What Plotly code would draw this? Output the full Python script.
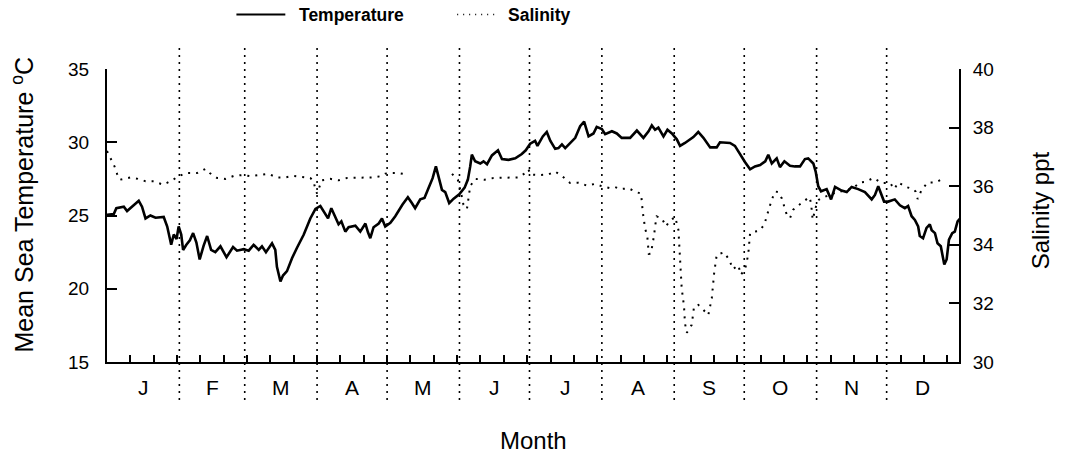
import plotly.graph_objects as go

# ---------------- data ----------------
temp_day = [0, 2.9, 4, 7.2, 8.6, 10.8, 13.6, 15, 16.5, 18.6, 20.8, 24.3, 25.8, 27.5, 28.6, 29.8, 30.7, 31.8,
            32.6, 34, 35.5, 36.9, 38.3, 39.7, 41.4, 42.9, 44.6, 46.4, 48.6, 51.2, 54, 55.7, 58.6, 60.7, 62.8,
            65, 66.4, 68.1, 70.7, 72.1, 72.8, 74.3, 75.4, 77.1, 79.3, 81.4, 84.3, 87.1, 89.3, 91.4, 92.8,
            94.7, 96.1, 97.8, 99.2, 100.4, 102.1, 103.5, 106.4, 108.5, 110.7, 111.8, 112.8, 114.2, 116.4,
            117.8, 119.2, 121.4, 123.5, 126.6, 128.9, 130.6, 132, 134.2, 136, 137.8, 139.5, 140.9, 142.3,
            143.5, 144.9, 146.6, 148.5, 150.9, 153.2, 154.6, 155.6, 156.3, 157.7, 159.9, 161.3, 162.8, 164.9,
            167.5, 169.2, 172, 174.9, 177.7, 179.4, 181.3, 183.4, 184.4, 186.7, 188.4, 189.9, 192, 193.4,
            194.9, 196.3, 198.4, 200.6, 202.7, 204.4, 206.3, 208.4, 209.8, 212, 213.4, 216.3, 218.4, 220.5,
            224.1, 227, 229.8, 232, 233.4, 234.8, 236.2, 238.4, 240.1, 242, 244.1, 245.5, 247.6, 251.2,
            253.3, 255.5, 258.4, 261.2, 262.6, 264.8, 266.9, 269, 271.2, 273.3, 275.5, 277.6, 279.8, 282,
            283.3, 284.8, 286.9, 288.3, 290.2, 292.6, 294.7, 296.9, 299, 300.4, 302.6, 303.6, 304.7, 305.9,
            308.3, 310.2, 311.9, 314.7, 316.9, 319, 321.8, 324.7, 327.6, 329, 330.4, 331.9, 332.9, 334.7,
            337.5, 339.7, 341.8, 343.2, 344.7, 346.1, 347.5, 348.2, 349.6, 351.1, 352.5, 353.3, 354.7,
            355.8, 357.2, 358.7, 359.7, 360.7, 362.1, 363.2, 364.4, 365.5]
temperature = [25.05, 25.1, 25.5, 25.6, 25.3, 25.6, 26.0, 25.6, 24.8, 25.0, 24.85, 24.9, 24.25, 23.0, 23.7,
               23.4, 24.25, 23.7, 22.65, 23.0, 23.3, 23.8, 23.15, 22.0, 22.95, 23.6, 22.65, 22.5, 22.9,
               22.15, 22.85, 22.6, 22.7, 22.6, 23.0, 22.65, 22.9, 22.5, 23.1, 22.65, 21.5, 20.5, 20.9, 21.2,
               22.1, 22.8, 23.7, 24.8, 25.45, 25.65, 25.3, 24.8, 25.5, 24.95, 24.4, 24.6, 23.9, 24.2, 24.3,
               23.9, 24.45, 23.85, 23.45, 24.2, 24.45, 24.8, 24.25, 24.5, 24.95, 25.75, 26.25, 25.85, 25.5,
               26.1, 26.2, 26.9, 27.55, 28.35, 27.45, 26.75, 26.6, 25.85, 26.15, 26.45, 26.9, 27.45, 28.35,
               29.15, 28.7, 28.55, 28.7, 28.5, 29.1, 29.45, 28.85, 28.8, 28.9, 29.2, 29.45, 29.9, 30.1,
               29.75, 30.4, 30.7, 30.1, 29.55, 29.6, 29.85, 29.6, 29.95, 30.3, 31.1, 31.4, 30.4, 30.6, 31.05,
               30.9, 30.55, 30.75, 30.6, 30.3, 30.3, 30.8, 30.3, 30.75, 31.15, 30.85, 31.0, 30.4, 30.85,
               30.6, 30.2, 29.75, 29.95, 30.35, 30.7, 30.3, 29.65, 29.65, 30.0, 30.0, 29.95, 29.75, 29.15,
               28.65, 28.15, 28.35, 28.45, 28.7, 29.15, 28.55, 28.9, 28.3, 28.7, 28.4, 28.35, 28.35, 28.85,
               28.9, 28.55, 28.0, 27.0, 26.65, 26.8, 26.1, 26.95, 26.7, 26.6, 26.95, 26.8, 26.6, 26.1, 26.4,
               27.0, 26.3, 25.95, 25.95, 26.1, 25.7, 25.5, 25.65, 24.95, 24.7, 24.25, 23.6, 23.45, 24.15,
               24.4, 24.0, 23.8, 23.1, 22.9, 21.65, 22.0, 23.35, 23.8, 23.9, 24.6, 24.8]

sal_day = [0, 1.5, 3.2, 4.4, 5.5, 7.2, 10, 13.2, 16.5, 20, 24, 27.2, 30.7, 34, 38.6, 42.2, 44, 47.2, 50.7,
           54.3, 57.9, 61.4, 65.4, 69.3, 72.6, 76.4, 79.7, 83.6, 87.1, 88.5, 89.3, 90, 90.8, 92, 95.7, 99.2,
           102.8, 106.4, 110.4, 113.8, 117.1, 119.2, 120.9, 124.9, 128.5, 138,
           147.8, 150.3, 152, 152.7, 154.2, 155.2, 155.6, 157.7, 161.7, 165.6, 169.2, 172.7, 176.3, 179.2,
           180.6, 181.3, 185.3, 189.1, 192, 195.3, 198.4, 202, 205.6, 209.1, 212, 215.2, 217.7, 219.8,
           223.4, 227, 228.8, 229.5, 230.5, 231.5, 232.1, 233, 233.8, 234.4, 234.8, 235.5, 237.7, 239.5,
           240.9, 243.4, 244.8, 245.2, 245.8, 246.2, 247.2, 247.6, 248.4, 250.5, 251.5, 253.3, 255.5,
           257.6, 259.1, 260.1, 261.2, 264.3, 266.6, 268.1, 270.5, 271.5, 273.3, 274.7, 275.5, 277.3,
           279.3, 281.6, 282.6, 283.6, 284.8, 286.2, 287.6, 289, 290.2, 291.2, 292.6, 294, 296.6, 299,
           300.9, 301.6, 301.9, 302.3, 303, 303.7, 305, 306.4, 309.7, 313, 316.9, 319.7, 322.6, 325,
           328.3, 331.9, 335.5, 337.3, 339, 342.5, 345.4, 346.4, 347.3, 349, 351.6, 355, 358.2]
salinity = [37.2, 36.97, 36.68, 36.4, 36.22, 36.25, 36.3, 36.25, 36.17, 36.17, 36.05, 36.17, 36.34, 36.45,
            36.45, 36.59, 36.45, 36.28, 36.25, 36.35, 36.38, 36.34, 36.38, 36.42, 36.3, 36.3, 36.35, 36.3,
            36.28, 36.17, 35.88, 35.75, 35.95, 36.2, 36.25, 36.2, 36.28, 36.28, 36.28, 36.3, 36.34, 36.43,
            36.45, 36.45, 36.4, None,
            36.42, 36.22, 35.65, 35.37, 35.22, 35.7, 36.0, 36.25, 36.22, 36.28, 36.28, 36.3, 36.3, 36.45,
            36.57, 36.4, 36.38, 36.4, 36.5, 36.32, 36.11, 36.12, 36.02, 36.08, 36.0, 35.94, 35.97, 35.9,
            35.93, 35.79, 35.75, 35.14, 34.57, 34.26, 33.69, 33.7, 34.0, 34.34, 34.63, 34.97, 34.9, 34.63,
            34.8, 34.95, 34.51, 33.94, 33.26, 32.52, 31.89, 31.32, 31.0, 31.27, 31.89, 31.95, 31.78, 31.6,
            32.18, 33.03, 33.66, 33.74, 33.49, 33.17, 33.3, 32.98, 33.15, 33.66, 34.4, 34.45, 34.47, 34.68,
            34.97, 35.26, 35.54, 35.82, 35.8, 35.6, 35.31, 35.03, 34.91, 35.2, 35.37, 35.52, 35.63, 35.43,
            35.14, 34.86, 35.08, 35.3, 35.54, 35.6, 35.71, 35.8, 35.86, 35.94, 36.13, 36.15, 36.28, 36.11,
            36.11, 35.9, 36.13, 35.97, 35.9, 35.82, 35.56, 35.88, 36.13, 36.13, 36.26]

month_labels = ["J", "F", "M", "A", "M", "J", "J", "A", "S", "O", "N", "D"]
month_lengths = [31, 28, 31, 30, 31, 30, 31, 31, 30, 31, 30, 31]
temp_ticks = [15, 20, 25, 30, 35]
sal_ticks = [30, 32, 34, 36, 38, 40]

# derived month boundaries / centres
bounds = [0]
for m in month_lengths:
    bounds.append(bounds[-1] + m)
month_mid = [(bounds[i] + bounds[i + 1]) / 2 for i in range(12)]
month_bounds = bounds[1:-1]

FONT = "Liberation Sans, Arial, sans-serif"

fig = go.Figure()
fig.add_trace(go.Scatter(x=temp_day, y=temperature, mode="lines", name="Temperature",
                         line=dict(color="black", width=2.6), yaxis="y", showlegend=False))
fig.add_trace(go.Scatter(x=sal_day, y=salinity, mode="lines", name="Salinity",
                         line=dict(color="black", width=2, dash="2px,6px"), yaxis="y2",
                         connectgaps=False, showlegend=False))

shapes = []
for b in month_bounds:
    shapes.append(dict(type="line", xref="x", yref="paper", x0=b, x1=b, y0=-0.13, y1=1.075,
                       line=dict(color="black", width=1.6, dash="2px,5px")))
# legend samples
shapes.append(dict(type="line", xref="paper", yref="paper", x0=0.1519, x1=0.2093, y0=1.186, y1=1.186,
                   line=dict(color="black", width=2.2)))
shapes.append(dict(type="line", xref="paper", yref="paper", x0=0.411, x1=0.458, y0=1.186, y1=1.186,
                   line=dict(color="black", width=1.5, dash="1px,5px")))

annotations = []
for lab, mid in zip(month_labels, month_mid):
    annotations.append(dict(x=mid, y=-0.088, xref="x", yref="paper", text=lab, showarrow=False,
                            font=dict(size=21, family=FONT, color="black"), xanchor="center", yanchor="middle"))
annotations += [
    dict(x=0.2234, y=1.186, xref="paper", yref="paper", text="<b>Temperature</b>", showarrow=False,
         xanchor="left", yanchor="middle", font=dict(size=17.5, family=FONT, color="black")),
    dict(x=0.4686, y=1.186, xref="paper", yref="paper", text="<b>Salinity</b>", showarrow=False,
         xanchor="left", yanchor="middle", font=dict(size=17.5, family=FONT, color="black")),
    dict(x=0.5, y=-0.268, xref="paper", yref="paper", text="Month", showarrow=False,
         xanchor="center", yanchor="middle", font=dict(size=24, family=FONT, color="black")),
    dict(x=-0.0991, y=0.536, xref="paper", yref="paper", text="Mean Sea Temperature <sup>o</sup>C",
         showarrow=False, textangle=-90, xanchor="center", yanchor="middle",
         font=dict(size=25, family=FONT, color="black")),
    dict(x=1.0966, y=0.519, xref="paper", yref="paper", text="Salinity ppt",
         showarrow=False, textangle=-90, xanchor="center", yanchor="middle",
         font=dict(size=24, family=FONT, color="black")),
]

fig.update_layout(
    width=1067, height=471,
    margin=dict(l=106.5, r=107.7, t=69.3, b=109.3, pad=0),
    paper_bgcolor="white", plot_bgcolor="white",
    font=dict(family=FONT, color="black"),
    showlegend=False,
    shapes=shapes,
    annotations=annotations,
    xaxis=dict(range=[0, 365], tickvals=list(range(0, 361, 10)), showticklabels=False,
               ticks="inside", ticklen=7, tickwidth=1.5, tickcolor="black",
               showline=True, linecolor="black", linewidth=2, showgrid=False, zeroline=False),
    yaxis=dict(range=[15, 35], tickvals=temp_ticks, ticks="inside", ticklen=10, tickwidth=1.5,
               tickcolor="black", showline=True, linecolor="black", linewidth=2, showgrid=False,
               zeroline=False, tickfont=dict(size=19, family=FONT, color="black"), ticklabelstandoff=12),
    yaxis2=dict(range=[30, 40], tickvals=sal_ticks, overlaying="y", side="right", ticks="inside",
                ticklen=10, tickwidth=1.5, tickcolor="black", showline=True, linecolor="black",
                linewidth=2, showgrid=False, zeroline=False,
                tickfont=dict(size=19, family=FONT, color="black"), ticklabelstandoff=8),
)

fig.write_html("out.html")
